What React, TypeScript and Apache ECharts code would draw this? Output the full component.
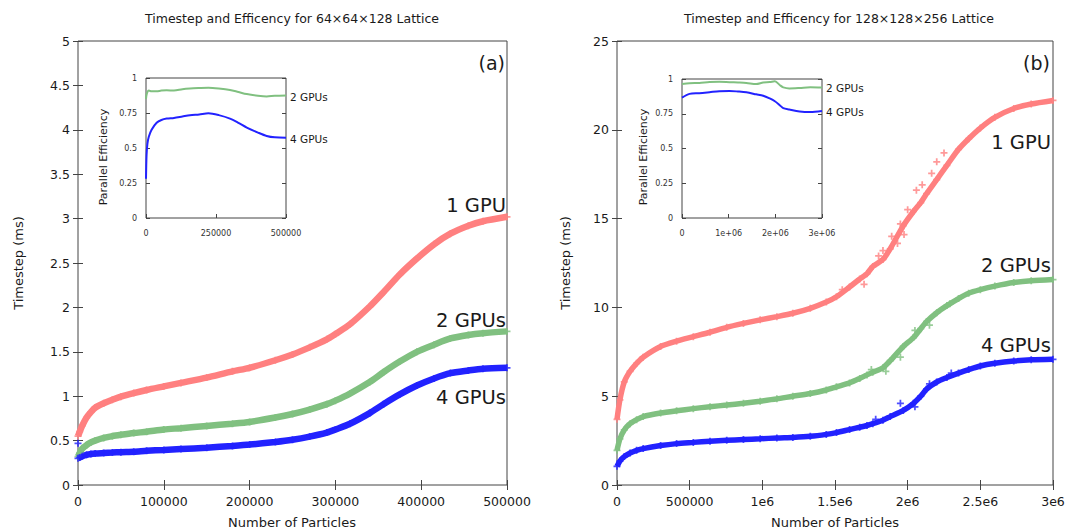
import React, { useEffect, useRef } from "react";
import * as echarts from "echarts";

// ---------- Panel (a): 64x64x128 lattice ----------
const aX = [0, 2000, 5000, 10000, 15000, 20000, 30000, 40000, 50000, 65000, 80000, 100000, 120000, 150000, 180000, 200000, 230000, 250000, 270000, 290000, 300000, 317000, 340000, 356000, 375000, 395000, 415000, 434000, 455000, 472000, 500000];
const a1GPU = [0.55, 0.6, 0.67, 0.76, 0.82, 0.87, 0.92, 0.96, 0.995, 1.035, 1.07, 1.11, 1.15, 1.21, 1.28, 1.32, 1.405, 1.47, 1.55, 1.64, 1.7, 1.81, 2.01, 2.17, 2.37, 2.55, 2.71, 2.83, 2.92, 2.97, 3.02];
const a2GPU = [0.32, 0.36, 0.41, 0.45, 0.48, 0.5, 0.53, 0.55, 0.565, 0.585, 0.6, 0.625, 0.64, 0.665, 0.69, 0.71, 0.76, 0.8, 0.85, 0.91, 0.95, 1.03, 1.16, 1.27, 1.39, 1.5, 1.58, 1.65, 1.69, 1.71, 1.73];
const a4GPU = [0.3, 0.31, 0.325, 0.34, 0.35, 0.355, 0.36, 0.365, 0.37, 0.375, 0.385, 0.395, 0.405, 0.42, 0.44, 0.455, 0.485, 0.51, 0.545, 0.59, 0.625, 0.69, 0.81, 0.91, 1.02, 1.12, 1.2, 1.26, 1.29, 1.31, 1.32];
const a4GPUOutX = [0];
const a4GPUOutY = [0.47];

// inset (a): parallel efficiency
const aEffX = [0, 2000, 5000, 10000, 20000, 38000, 55000, 74000, 100000, 130000, 157000, 190000, 223000, 260000, 300000, 330000, 360000, 400000, 431000, 460000, 500000];
const aEff2 = [0.85, 0.88, 0.9, 0.91, 0.905, 0.905, 0.91, 0.912, 0.91, 0.92, 0.925, 0.928, 0.93, 0.925, 0.915, 0.9, 0.885, 0.873, 0.868, 0.873, 0.875];
const aEff4 = [0.28, 0.45, 0.53, 0.58, 0.63, 0.68, 0.7, 0.71, 0.715, 0.725, 0.734, 0.74, 0.748, 0.735, 0.71, 0.68, 0.646, 0.61, 0.586, 0.576, 0.574];

// ---------- Panel (b): 128x128x256 lattice ----------
const bX = [0, 20000, 50000, 90000, 135000, 180000, 300000, 410000, 525000, 640000, 755000, 870000, 985000, 1100000, 1210000, 1330000, 1440000, 1510000, 1600000, 1670000, 1720000, 1760000, 1830000, 1880000, 1970000, 2040000, 2090000, 2130000, 2200000, 2270000, 2350000, 2420000, 2500000, 2600000, 2730000, 2850000, 3000000];
const b1GPU = [3.7, 4.8, 5.8, 6.4, 6.85, 7.2, 7.8, 8.1, 8.35, 8.6, 8.88, 9.1, 9.3, 9.48, 9.67, 9.95, 10.3, 10.6, 11.15, 11.6, 11.9, 12.3, 12.7, 13.3, 14.6, 15.4, 15.9, 16.4, 17.2, 18.0, 18.9, 19.5, 20.1, 20.7, 21.2, 21.45, 21.65];
const b2GPU = [1.95, 2.6, 3.1, 3.45, 3.68, 3.85, 4.05, 4.18, 4.3, 4.41, 4.5, 4.6, 4.72, 4.85, 5.0, 5.15, 5.35, 5.53, 5.75, 6.0, 6.2, 6.35, 6.6, 7.0, 7.8, 8.3, 8.8, 9.2, 9.7, 10.1, 10.5, 10.8, 11.0, 11.2, 11.4, 11.5, 11.57];
const b4GPU = [1.05, 1.35, 1.6, 1.8, 1.95, 2.05, 2.22, 2.33, 2.4, 2.47, 2.52, 2.56, 2.6, 2.65, 2.68, 2.74, 2.85, 2.95, 3.12, 3.25, 3.35, 3.45, 3.65, 3.85, 4.2, 4.6, 5.0, 5.4, 5.8, 6.05, 6.3, 6.5, 6.7, 6.85, 6.98, 7.05, 7.08];
const b1GPUOutX = [1890000, 1975000, 2165000, 1830000, 2060000, 1800000, 1930000, 2000000, 2100000, 2200000, 2250000, 1950000, 1700000, 1550000];
const b1GPUOutY = [14.0, 14.1, 17.55, 13.2, 16.6, 12.9, 13.6, 15.5, 16.9, 18.2, 18.7, 14.7, 11.3, 11.0];
const b2GPUOutX = [1850000, 1950000, 2050000, 2150000, 2290000, 1750000];
const b2GPUOutY = [6.4, 7.2, 8.7, 9.0, 10.2, 6.5];
const b4GPUOutX = [1950000, 2050000, 2150000, 1780000, 2300000];
const b4GPUOutY = [4.6, 4.4, 5.7, 3.7, 6.3];

// inset (b): parallel efficiency
const bEffX = [0, 160000, 370000, 590000, 800000, 1020000, 1200000, 1380000, 1590000, 1740000, 1880000, 1990000, 2100000, 2170000, 2300000, 2520000, 2750000, 3000000];
const bEff2 = [0.964, 0.97, 0.972, 0.978, 0.98, 0.977, 0.975, 0.972, 0.964, 0.975, 0.978, 0.984, 0.955, 0.94, 0.932, 0.935, 0.94, 0.938];
const bEff4 = [0.866, 0.893, 0.898, 0.905, 0.912, 0.914, 0.91, 0.904, 0.89, 0.88, 0.86, 0.84, 0.81, 0.79, 0.78, 0.766, 0.762, 0.77];

const bXTickLabels = ["0", "500000", "1e6", "1.5e6", "2e6", "2.5e6", "3e6"];
const bInsetXTickLabels = ["0", "1e+06", "2e+06", "3e+06"];

const RED = "#ff8080";
const GREEN = "#80c080";
const BLUE = "#2222ff";
const FONT = "DejaVu Sans";
const TXT = "#1a1a1a";
const PLUS = "path://M3,0H5V3H8V5H5V8H3V5H0V3H3Z";

const zip = (xs: number[], ys: number[]) => xs.map((x, i) => [x, ys[i]]);

function band(name: string, xs: number[], ys: number[], color: string, idx: number, width: number) {
  const data = zip(xs, ys);
  return [
    {
      name,
      type: "line",
      xAxisIndex: idx,
      yAxisIndex: idx,
      data,
      smooth: 0.25,
      showSymbol: false,
      lineStyle: { color, width },
      z: 2,
    },
    {
      name: name + "-pts",
      type: "scatter",
      xAxisIndex: idx,
      yAxisIndex: idx,
      data,
      symbol: PLUS,
      symbolSize: 7,
      itemStyle: { color },
      clip: false,
      z: 3,
    },
  ];
}

function outliers(xs: number[], ys: number[], color: string, idx: number) {
  return {
    type: "scatter",
    xAxisIndex: idx,
    yAxisIndex: idx,
    data: zip(xs, ys),
    symbol: PLUS,
    symbolSize: 7,
    itemStyle: { color },
    clip: false,
    z: 3,
  };
}

function effLine(xs: number[], ys: number[], color: string, xi: number, yi: number) {
  return {
    type: "line",
    xAxisIndex: xi,
    yAxisIndex: yi,
    data: zip(xs, ys),
    smooth: 0.3,
    showSymbol: false,
    lineStyle: { color, width: 2 },
    z: 12,
  };
}

const plain = (v: number) => String(v);
const mainLabel = { color: TXT, fontFamily: FONT, fontSize: 12.5 };
const insetLabel = { color: "#333", fontFamily: FONT, fontSize: 8 };
const tickMain = { show: true, inside: true, length: 5, lineStyle: { color: "#444" } };
const tickInset = { show: true, inside: true, length: 4, lineStyle: { color: "#444" } };

function txt(text: string, x: number, y: number, size: number, align = "center", rotation = 0) {
  return {
    type: "text",
    x,
    y,
    rotation,
    z: 20,
    style: {
      text,
      fill: TXT,
      font: `${size}px "${FONT}"`,
      textAlign: align,
      textVerticalAlign: "middle",
    },
  };
}

export default function App() {
  const ref = useRef<HTMLDivElement>(null);
  useEffect(() => {
    document.body.style.margin = "0";
    if (!ref.current) return;
    const chart = echarts.init(ref.current, undefined, { renderer: "svg" });
    const hidden = { axisLine: { show: false }, splitLine: { show: false } };
    const option: any = {
      animation: false,
      backgroundColor: "#ffffff",
      grid: [
        { left: 78, top: 41, width: 429, height: 444, show: true, borderColor: "#444", borderWidth: 1, backgroundColor: "transparent" },
        { left: 617, top: 41, width: 436, height: 444, show: true, borderColor: "#444", borderWidth: 1, backgroundColor: "transparent" },
        { left: 146, top: 78, width: 140, height: 140, show: true, borderColor: "#444", borderWidth: 1, backgroundColor: "#ffffff", z: 10 },
        { left: 682, top: 79, width: 140, height: 139, show: true, borderColor: "#444", borderWidth: 1, backgroundColor: "#ffffff", z: 10 },
      ],
      xAxis: [
        { type: "value", gridIndex: 0, min: 0, max: 500000, interval: 100000, position: "bottom", ...hidden, axisTick: tickMain, axisLabel: { ...mainLabel, margin: 10, formatter: plain } },
        { type: "value", gridIndex: 0, min: 0, max: 500000, interval: 100000, position: "top", ...hidden, axisTick: tickMain, axisLabel: { show: false } },
        { type: "value", gridIndex: 1, min: 0, max: 3000000, interval: 500000, position: "bottom", ...hidden, axisTick: tickMain, axisLabel: { ...mainLabel, margin: 10, formatter: (v: number) => bXTickLabels[Math.round(v / 500000)] ?? "" } },
        { type: "value", gridIndex: 1, min: 0, max: 3000000, interval: 500000, position: "top", ...hidden, axisTick: tickMain, axisLabel: { show: false } },
        { type: "value", gridIndex: 2, min: 0, max: 500000, interval: 250000, position: "bottom", z: 11, ...hidden, axisTick: tickInset, axisLabel: { ...insetLabel, margin: 11, formatter: plain } },
        { type: "value", gridIndex: 3, min: 0, max: 3000000, interval: 1000000, position: "bottom", z: 11, ...hidden, axisTick: tickInset, axisLabel: { ...insetLabel, margin: 11, formatter: (v: number) => bInsetXTickLabels[Math.round(v / 1000000)] ?? "" } },
      ],
      yAxis: [
        { type: "value", gridIndex: 0, min: 0, max: 5, interval: 0.5, position: "left", ...hidden, axisTick: tickMain, axisLabel: { ...mainLabel, margin: 8 } },
        { type: "value", gridIndex: 0, min: 0, max: 5, interval: 0.5, position: "right", ...hidden, axisTick: tickMain, axisLabel: { show: false } },
        { type: "value", gridIndex: 1, min: 0, max: 25, interval: 5, position: "left", ...hidden, axisTick: tickMain, axisLabel: { ...mainLabel, margin: 8 } },
        { type: "value", gridIndex: 1, min: 0, max: 25, interval: 5, position: "right", ...hidden, axisTick: tickMain, axisLabel: { show: false } },
        { type: "value", gridIndex: 2, min: 0, max: 1, interval: 0.25, position: "left", z: 11, ...hidden, axisTick: tickInset, axisLabel: { ...insetLabel, margin: 9 } },
        { type: "value", gridIndex: 2, min: 0, max: 1, interval: 0.25, position: "right", z: 11, ...hidden, axisTick: tickInset, axisLabel: { show: false } },
        { type: "value", gridIndex: 3, min: 0, max: 1, interval: 0.25, position: "left", z: 11, ...hidden, axisTick: tickInset, axisLabel: { ...insetLabel, margin: 9 } },
        { type: "value", gridIndex: 3, min: 0, max: 1, interval: 0.25, position: "right", z: 11, ...hidden, axisTick: tickInset, axisLabel: { show: false } },
      ],
      series: [
        ...band("1 GPU (a)", aX, a1GPU, RED, 0, 6.5),
        ...band("2 GPUs (a)", aX, a2GPU, GREEN, 0, 6.5),
        ...band("4 GPUs (a)", aX, a4GPU, BLUE, 0, 6.5),
        outliers(a4GPUOutX, a4GPUOutY, BLUE, 0),
        ...band("1 GPU (b)", bX, b1GPU, RED, 2, 5.5),
        ...band("2 GPUs (b)", bX, b2GPU, GREEN, 2, 5.5),
        ...band("4 GPUs (b)", bX, b4GPU, BLUE, 2, 5.5),
        outliers(b1GPUOutX, b1GPUOutY, RED, 2),
        outliers(b2GPUOutX, b2GPUOutY, GREEN, 2),
        outliers(b4GPUOutX, b4GPUOutY, BLUE, 2),
        effLine(aEffX, aEff2, GREEN, 4, 4),
        effLine(aEffX, aEff4, BLUE, 4, 4),
        effLine(bEffX, bEff2, GREEN, 5, 6),
        effLine(bEffX, bEff4, BLUE, 5, 6),
      ],
      graphic: [
        txt("Timestep and Efficency for 64×64×128 Lattice", 292, 18, 12.5),
        txt("Timestep and Efficency for 128×128×256 Lattice", 839, 18, 12.5),
        txt("(a)", 505, 63, 19, "right"),
        txt("(b)", 1050, 63, 19, "right"),
        txt("Timestep (ms)", 18, 263, 13, "center", Math.PI / 2),
        txt("Timestep (ms)", 565, 263, 13, "center", Math.PI / 2),
        txt("Number of Particles", 292, 522, 13),
        txt("Number of Particles", 835, 522, 13),
        txt("1 GPU", 506, 205, 19.5, "right"),
        txt("2 GPUs", 506, 320, 19.5, "right"),
        txt("4 GPUs", 506, 397, 19.5, "right"),
        txt("1 GPU", 1051, 142, 19.5, "right"),
        txt("2 GPUs", 1051, 265, 19.5, "right"),
        txt("4 GPUs", 1051, 345, 19.5, "right"),
        txt("2 GPUs", 290, 97, 10.5, "left"),
        txt("4 GPUs", 290, 139, 10.5, "left"),
        txt("2 GPUs", 826, 88, 10.5, "left"),
        txt("4 GPUs", 826, 112, 10.5, "left"),
        txt("Parallel Efficiency", 103, 157, 11, "center", Math.PI / 2),
        txt("Parallel Efficiency", 643, 157, 11, "center", Math.PI / 2),
      ],
    };
    chart.setOption(option);
    return () => chart.dispose();
  }, []);
  return <div ref={ref} style={{ width: 1073, height: 531 }} />;
}
